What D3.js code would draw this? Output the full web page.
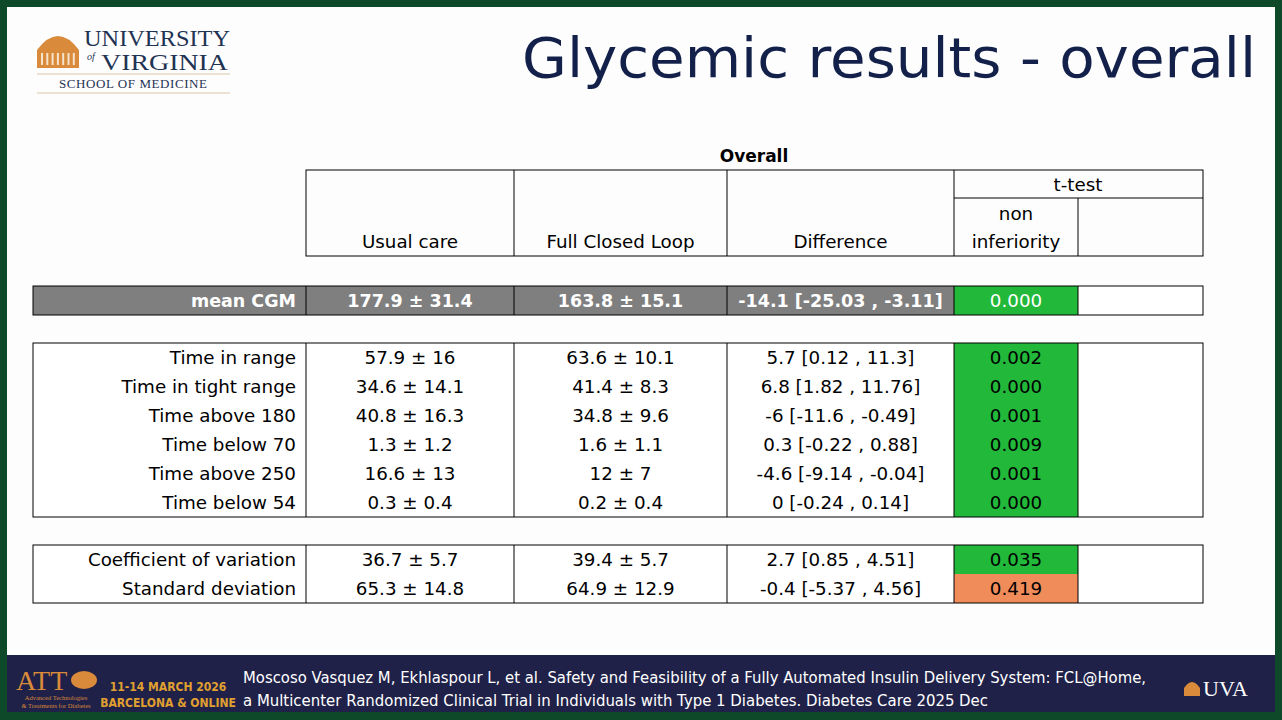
<!DOCTYPE html>
<html><head><meta charset="utf-8">
<script src="https://cdn.jsdelivr.net/npm/d3@7"></script>
<style>body{margin:0;background:#0e4a2a;overflow:hidden}</style>
</head><body>
<svg id="chart" width="1282" height="720"></svg>
<script>
// table data
const columns = ["Usual care", "Full Closed Loop", "Difference"];
const rowLabels = [["mean CGM"],
  ["Time in range", "Time in tight range", "Time above 180", "Time below 70", "Time above 250", "Time below 54"],
  ["Coefficient of variation", "Standard deviation"]];
const usualCare = [["177.9 ± 31.4"],
  ["57.9 ± 16", "34.6 ± 14.1", "40.8 ± 16.3", "1.3 ± 1.2", "16.6 ± 13", "0.3 ± 0.4"],
  ["36.7 ± 5.7", "65.3 ± 14.8"]];
const closedLoop = [["163.8 ± 15.1"],
  ["63.6 ± 10.1", "41.4 ± 8.3", "34.8 ± 9.6", "1.6 ± 1.1", "12 ± 7", "0.2 ± 0.4"],
  ["39.4 ± 5.7", "64.9 ± 12.9"]];
const difference = [["-14.1 [-25.03 , -3.11]"],
  ["5.7 [0.12 , 11.3]", "6.8 [1.82 , 11.76]", "-6 [-11.6 , -0.49]", "0.3 [-0.22 , 0.88]", "-4.6 [-9.14 , -0.04]", "0 [-0.24 , 0.14]"],
  ["2.7 [0.85 , 4.51]", "-0.4 [-5.37 , 4.56]"]];
const pValues = [[0.000], [0.002, 0.000, 0.001, 0.009, 0.001, 0.000], [0.035, 0.419]];

const svg = d3.select("#chart");
const font = "'DejaVu Sans', Verdana, sans-serif";

// slide background
svg.append("rect").attr("x", 7).attr("y", 7).attr("width", 1268).attr("height", 650).attr("fill", "#fdfdfd");
svg.append("rect").attr("x", 7).attr("y", 655).attr("width", 1268).attr("height", 57).attr("fill", "#1f2148");

// logo
const serif = "'Liberation Serif', serif";
const logo = svg.append("g").attr("font-family", serif).attr("fill", "#1f3354");
logo.append("path").attr("d", "M37,50 Q58,22 79,50 Z").attr("fill", "#d98a3a");
logo.append("rect").attr("x", 37).attr("y", 50).attr("width", 42).attr("height", 18).attr("fill", "#d98a3a");
for (let i = 0; i < 7; i++) logo.append("rect").attr("x", 41 + i * 5.3).attr("y", 53).attr("width", 2).attr("height", 12).attr("fill", "#f6e3cc");
logo.append("text").attr("x", 84).attr("y", 46).text("UNIVERSITY").attr("font-size", 23).attr("textLength", 146).attr("lengthAdjust", "spacingAndGlyphs");
logo.append("text").attr("x", 87).attr("y", 60).text("of").attr("font-style", "italic").attr("font-size", 10);
logo.append("text").attr("x", 101).attr("y", 70).text("VIRGINIA").attr("font-size", 23).attr("textLength", 127).attr("lengthAdjust", "spacingAndGlyphs");
logo.append("line").attr("x1", 37).attr("x2", 230).attr("y1", 74).attr("y2", 74).attr("stroke", "#d9c7a8");
logo.append("line").attr("x1", 37).attr("x2", 230).attr("y1", 93).attr("y2", 93).attr("stroke", "#d9c7a8");
logo.append("text").attr("x", 133).attr("y", 88).attr("text-anchor", "middle").text("SCHOOL OF MEDICINE").attr("font-size", 13).attr("textLength", 148);

// title
svg.append("text").attr("x", 522).attr("y", 77).text("Glycemic results - overall")
  .attr("font-family", font).attr("font-size", 56).attr("fill", "#12204a")
  .attr("textLength", 734).attr("lengthAdjust", "spacingAndGlyphs");

// column layout
const colEdges = [33, 306, 514, 727, 954, 1078, 1203];
const x = d3.scaleOrdinal().domain(d3.range(6)).range(colEdges.slice(0, 6));
const w = i => colEdges[i + 1] - colEdges[i];
const rowH = 29;
const groupTop = [286, 343, 545];
const fs = 18.3;

svg.append("text").attr("x", 754).attr("y", 162).attr("text-anchor", "middle").text("Overall")
  .attr("font-family", font).attr("font-weight", "bold").attr("font-size", 17).attr("fill", "#000");

// header
const head = svg.append("g").attr("font-family", font).attr("font-size", fs).attr("fill", "#000");
head.append("rect").attr("x", 306).attr("y", 170).attr("width", 897).attr("height", 86).attr("fill", "none").attr("stroke", "#000");
[514, 727, 954].forEach(v => head.append("line").attr("x1", v).attr("x2", v).attr("y1", 170).attr("y2", 256).attr("stroke", "#000"));
head.append("line").attr("x1", 954).attr("x2", 1203).attr("y1", 198).attr("y2", 198).attr("stroke", "#000");
head.append("line").attr("x1", 1078).attr("x2", 1078).attr("y1", 198).attr("y2", 256).attr("stroke", "#000");
columns.forEach((c, i) => head.append("text").attr("x", x(i + 1) + w(i + 1) / 2).attr("y", 248).attr("text-anchor", "middle").text(c));
head.append("text").attr("x", 1078).attr("y", 191).attr("text-anchor", "middle").text("t-test");
head.append("text").attr("x", 1016).attr("y", 220).attr("text-anchor", "middle").text("non");
head.append("text").attr("x", 1016).attr("y", 248).attr("text-anchor", "middle").text("inferiority");

const pColor = p => p < 0.05 ? "#22b83a" : "#f08c5a";

rowLabels.forEach((labels, g) => {
  const grp = svg.append("g").attr("font-family", font).attr("font-size", fs);
  const gray = g === 0;
  labels.forEach((lab, r) => {
    const y = groupTop[g] + r * rowH;
    const cells = [lab, usualCare[g][r], closedLoop[g][r], difference[g][r], pValues[g][r].toFixed(3), ""];
    cells.forEach((txt, c) => {
      const fill = c === 4 ? pColor(pValues[g][r]) : (gray && c < 4 ? "#7f7f7f" : "#fff");
      grp.append("rect").attr("x", x(c)).attr("y", y).attr("width", w(c)).attr("height", rowH).attr("fill", fill);
      grp.append("text")
        .attr("x", c === 0 ? x(c) + w(c) - 10 : x(c) + w(c) / 2)
        .attr("y", y + rowH / 2 + 6.5)
        .attr("text-anchor", c === 0 ? "end" : "middle")
        .attr("font-weight", gray && c < 4 ? "bold" : "normal")
        .attr("font-size", gray && c < 4 ? 17.5 : fs)
        .attr("fill", gray ? "#fff" : "#000")
        .text(txt);
    });
  });
  const h = labels.length * rowH;
  grp.append("rect").attr("x", 33).attr("y", groupTop[g]).attr("width", 1170).attr("height", h).attr("fill", "none").attr("stroke", "#000");
  colEdges.slice(1, 6).forEach(v => grp.append("line").attr("x1", v).attr("x2", v).attr("y1", groupTop[g]).attr("y2", groupTop[g] + h).attr("stroke", "#000"));
});

// footer
const foot = svg.append("g");
foot.append("text").attr("x", 16).attr("y", 690).text("ATT").attr("font-family", serif).attr("font-size", 28).attr("fill", "#d98a3a");
foot.append("ellipse").attr("cx", 84).attr("cy", 680).attr("rx", 13).attr("ry", 9).attr("fill", "#d98a3a");
foot.append("text").attr("x", 56).attr("y", 700).attr("text-anchor", "middle").text("Advanced Technologies").attr("font-family", serif).attr("font-size", 6.5).attr("fill", "#d98a3a");
foot.append("text").attr("x", 56).attr("y", 708).attr("text-anchor", "middle").text("& Treatments for Diabetes").attr("font-family", serif).attr("font-size", 6.5).attr("fill", "#d98a3a");
foot.append("text").attr("x", 168).attr("y", 691).attr("text-anchor", "middle").text("11-14 MARCH 2026").attr("font-family", "'DejaVu Sans Condensed', sans-serif").attr("font-weight", "bold").attr("font-size", 12).attr("fill", "#e0a030");
foot.append("text").attr("x", 168).attr("y", 707).attr("text-anchor", "middle").text("BARCELONA & ONLINE").attr("font-family", "'DejaVu Sans Condensed', sans-serif").attr("font-weight", "bold").attr("font-size", 12).attr("fill", "#e0a030");
foot.append("text").attr("x", 243).attr("y", 683).text("Moscoso Vasquez M, Ekhlaspour L, et al. Safety and Feasibility of a Fully Automated Insulin Delivery System: FCL@Home,").attr("font-family", font).attr("font-size", 15).attr("fill", "#fff").attr("textLength", 903).attr("lengthAdjust", "spacingAndGlyphs");
foot.append("text").attr("x", 243).attr("y", 706).text("a Multicenter Randomized Clinical Trial in Individuals with Type 1 Diabetes. Diabetes Care 2025 Dec").attr("font-family", font).attr("font-size", 15).attr("fill", "#fff").attr("textLength", 745).attr("lengthAdjust", "spacingAndGlyphs");
foot.append("path").attr("d", "M1184,688 Q1192,676 1200,688 Z").attr("fill", "#d98a3a");
foot.append("rect").attr("x", 1184).attr("y", 688).attr("width", 16).attr("height", 8).attr("fill", "#d98a3a");
foot.append("text").attr("x", 1203).attr("y", 696).text("UVA").attr("font-family", serif).attr("font-size", 22).attr("fill", "#fff");
</script>
</body></html>
